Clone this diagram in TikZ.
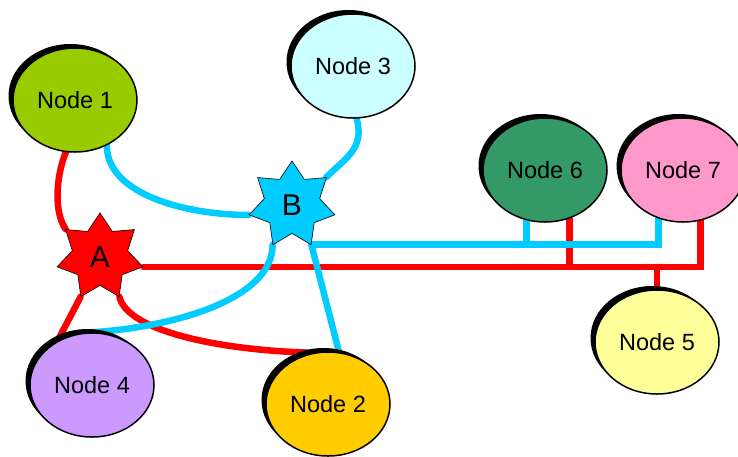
\documentclass[tikz,border=0pt]{standalone}
\usepackage{fontspec}
\setmainfont{Liberation Sans}
\usetikzlibrary{shapes.geometric,shadows,backgrounds}
\definecolor{hubred}{HTML}{FF0000}
\definecolor{hubcyan}{HTML}{00CCFF}
\definecolor{c1}{HTML}{99CC00}
\definecolor{c2}{HTML}{FFCC00}
\definecolor{c3}{HTML}{CCFFFF}
\definecolor{c4}{HTML}{CC99FF}
\definecolor{c5}{HTML}{FFFF99}
\definecolor{c6}{HTML}{339966}
\definecolor{c7}{HTML}{FF99CC}
\begin{document}
\begin{tikzpicture}[x=1pt,y=-1pt,
  blob/.style={ellipse, draw=black, line width=1.5pt, minimum width=124pt,
    minimum height=104pt, inner sep=0pt, font=\fontsize{23.5}{27}\selectfont,
    general shadow={fill=black, shadow xshift=-4.5pt, shadow yshift=4pt}},
  hub/.style={star, star points=7, star point ratio=1.55, minimum size=88pt,
    inner sep=0pt, draw=black, line width=0.6pt, font=\fontsize{30}{34}\selectfont},
  redlink/.style={draw=hubred, line width=6.5pt, line cap=round},
  cyanlink/.style={draw=hubcyan, line width=6.5pt, line cap=round}]
\useasboundingbox (0,0) rectangle (738,456);

% peripheral nodes
\node[blob, fill=c1] (n1) at (75,100)  {Node 1};
\node[blob, fill=c3] (n3) at (353,66)  {Node 3};
\node[blob, fill=c6] (n6) at (545,170) {Node 6};
\node[blob, fill=c7] (n7) at (683,170) {Node 7};
\node[blob, fill=c5] (n5) at (657,342) {Node 5};
\node[blob, fill=c4] (n4) at (92,385)  {Node 4};
\node[blob, fill=c2] (n2) at (328,404) {Node 2};

% hubs
\node[hub, fill=hubred]  (A) at (100,257) {A};
\node[hub, fill=hubcyan] (B) at (292,205) {B};

\begin{pgfonlayer}{background}
  % red links from hub A
  \draw[redlink] (n1.-100) .. controls +(-10,25) and +(-12,-17) .. (A.141);
  \draw[redlink] (A.-116) -- (n4.128);
  \draw[redlink] (A.-64) .. controls +(8,35) and +(-90,-2) .. (n2.106);
  \draw[redlink] (A.-13) -| (n7.-71);
  \draw[redlink] (n6.-63) -- (n6.-63 |- A.-13);
  \draw[redlink] (n5.north) -- (n5.north |- A.-13);
  % cyan links from hub B
  \draw[cyanlink] (n1.-55) .. controls +(0,50) and +(-60,0) .. (B.-167);
  \draw[cyanlink] (n3.-86) .. controls +(8,30) and +(20,-20) .. (B.39);
  \draw[cyanlink] (B.-116) .. controls +(0,55) and +(80,-5) .. (n4.north);
  \draw[cyanlink] (B.-64) -- (n2.78);
  \draw[cyanlink] (B.-64) -| (n7.-117);
  \draw[cyanlink] (n6.-110) -- (n6.-110 |- B.-64);
\end{pgfonlayer}
\end{tikzpicture}
\end{document}
